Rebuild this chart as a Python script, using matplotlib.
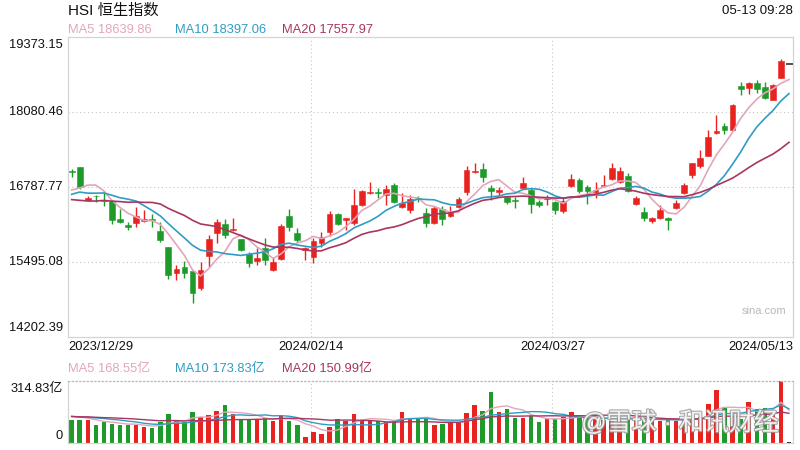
import numpy as np
import matplotlib
matplotlib.use('Agg')
import matplotlib.pyplot as plt
from matplotlib import patheffects as pe

plt.rcParams['font.family'] = ['Liberation Sans', 'Noto Sans CJK SC', 'DejaVu Sans']

# ---------------- data ----------------
title = 'HSI 恒生指数'
timestamp = '05-13 09:28'
date_labels = ['2023/12/29', '2024/02/14', '2024/03/27', '2024/05/13']
price_ticks = [19373.15, 18080.46, 16787.77, 15495.08, 14202.39]
vol_ticks = [314.83, 0]
ma_names = ['MA5', 'MA10', 'MA20']
ma_price_legend = [18639.86, 18397.06, 17557.97]
ma_vol_legend = [168.55, 173.83, 150.99]

opens = [17070, 17127, 16570, 16640, 16560, 16547, 16242, 16125, 16162, 16207,
         16240, 16030, 15748, 15300, 15409, 15340, 15041, 15598, 15990, 16150,
         16040, 15891, 15633, 15520, 15742, 15357, 15541, 16288, 15990, 15700,
         15576, 15817, 16018, 16322, 16215, 16173, 16478, 16680, 16700, 16650,
         16822, 16438, 16391, 16605, 16334, 16162, 16408, 16290, 16438, 16707,
         17040, 17093, 16770, 16700, 16621, 16565, 16765, 16736, 16535, 16575,
         16535, 16380, 16810, 16908, 16783, 16700, 16805, 16920, 16879, 16977,
         16489, 16362, 16210, 16249, 16260, 16421, 16679, 16995, 17143, 17322,
         17715, 17839, 17770, 18520, 18490, 18575, 18506, 18287, 18672, 18904]
highs = [17093, 17135, 16635, 16655, 16720, 16560, 16403, 16190, 16448, 16391,
         16318, 16190, 15760, 15443, 15517, 15345, 15490, 15960, 16236, 16231,
         16248, 15900, 15672, 15731, 15904, 15587, 16145, 16403, 16076, 15760,
         15904, 16018, 16379, 16340, 16260, 16748, 16735, 16880, 16765, 16822,
         16850, 16679, 16650, 16625, 16421, 16460, 16460, 16460, 16621, 17150,
         17207, 17201, 16822, 16793, 16630, 16621, 16965, 16765, 16560, 16650,
         16552, 16621, 17007, 16938, 16822, 16879, 16995, 17201, 17127, 17024,
         16638, 16438, 16276, 16478, 16265, 16564, 16850, 17210, 17425, 17770,
         18029, 17886, 18210, 18592, 18600, 18632, 18590, 18560, 18990, 18904]
lows = [16965, 16748, 16545, 16535, 16460, 16150, 16173, 16047, 16104, 16190,
        16104, 15835, 15202, 15185, 15214, 14794, 15012, 15414, 15828, 15904,
        16030, 15690, 15414, 15443, 15443, 15340, 15529, 16035, 15845, 15529,
        15472, 15759, 15943, 16133, 16047, 16133, 16462, 16665, 16593, 16478,
        16520, 16421, 16334, 16535, 16093, 16145, 16133, 16276, 16421, 16650,
        17030, 16879, 16564, 16650, 16495, 16431, 16750, 16345, 16450, 16478,
        16317, 16334, 16793, 16690, 16495, 16593, 16793, 16910, 16862, 16700,
        16472, 16210, 16162, 16230, 16047, 16400, 16660, 16938, 17115, 17322,
        17700, 17700, 17750, 18373, 18390, 18414, 18300, 18287, 18660, 18904]
closes = [17047, 16789, 16600, 16625, 16540, 16224, 16190, 16097, 16295, 16240,
          16216, 15866, 15277, 15370, 15309, 14961, 15354, 15900, 16190, 15952,
          16065, 15703, 15485, 15560, 15533, 15490, 16121, 16093, 15878, 15730,
          15860, 15930, 16320, 16156, 16245, 16478, 16719, 16700, 16680, 16760,
          16537, 16511, 16580, 16596, 16163, 16420, 16230, 16353, 16588, 17080,
          17070, 16962, 16721, 16737, 16529, 16543, 16863, 16499, 16474, 16618,
          16393, 16541, 16931, 16725, 16724, 16733, 16830, 17110, 17063, 16722,
          16600, 16249, 16252, 16386, 16224, 16512, 16829, 17201, 17285, 17651,
          17747, 17763, 18207, 18476, 18578, 18479, 18314, 18538, 18964, 18904]
volumes = [117, 117, 117, 92, 106, 97, 92, 92, 92, 80,
           74, 106, 149, 117, 106, 158, 131, 143, 163, 193,
           148, 121, 121, 121, 126, 114, 138, 114, 92, 30,
           55, 47, 80, 121, 114, 149, 117, 117, 114, 106,
           117, 156, 126, 126, 126, 92, 97, 101, 109, 151,
           193, 163, 257, 156, 174, 126, 126, 138, 106, 121,
           121, 131, 156, 126, 126, 125, 115, 110, 118, 130,
           118, 125, 115, 110, 125, 112, 120, 128, 130, 200,
           267, 181, 130, 121, 206, 173, 179, 163, 314.83, 3]
# closes / volumes of the 19 sessions before the first candle (for the moving averages)
prior_closes = [17043, 16830, 16646, 16328, 16463, 16346, 16334, 16201, 16375, 16229,
                16402, 16792, 16629, 16505, 16614, 16621, 16340, 16625, 17044]
prior_volumes = [150, 128, 135, 142, 120, 131, 126, 145, 138, 133,
                 160, 118, 125, 137, 140, 129, 145, 132, 148]

# ---------------- helpers ----------------
RED = '#e8231f'
GREEN = '#1d9a2a'
MA_COLORS = ['#e2a6bb', '#2f9cc4', '#a93560']
GRID = '#c4c4c4'
FRAME = '#d4d4d4'

n = len(closes)
x = np.arange(n)


def moving_avg(prior, vals, w):
    full = np.array(list(prior) + list(vals), dtype=float)
    off = len(prior)
    return np.array([full[off + i - w + 1: off + i + 1].mean() for i in range(len(vals))])


W, H = 800, 450
fig = plt.figure(figsize=(8, 4.5), dpi=100)
fig.patch.set_facecolor('white')

L, R = 68, 793
ax = fig.add_axes([L / W, 1 - 337 / H, (R - L) / W, 300 / H])
axv = fig.add_axes([L / W, 1 - 443 / H, (R - L) / W, 62 / H])

xlim = (-0.45, n - 0.5)
for a in (ax, axv):
    a.set_xlim(*xlim)
    a.set_xticks([])
    a.set_yticks([])
    for s in a.spines.values():
        s.set_color(FRAME)
        s.set_linewidth(0.9)

ax.set_ylim(price_ticks[-1], price_ticks[0])
axv.set_ylim(0, vol_ticks[0])
axv.spines['top'].set_linestyle((0, (1, 2)))
axv.spines['top'].set_color('#b8b8b8')

# grid lines
for v in price_ticks[1:-1]:
    ax.axhline(v, color=GRID, lw=0.8, ls=(0, (1, 2.5)), zorder=0)
for gx in (29.65, 59.65):
    ax.axvline(gx, color=GRID, lw=0.8, ls=(0, (1, 2.5)), zorder=0)
    axv.axvline(gx, color=GRID, lw=0.8, ls=(0, (1, 2.5)), zorder=0)

# candles
o = np.array(opens, float); c = np.array(closes, float)
h = np.array(highs, float); lo = np.array(lows, float)
cols = []
for i in range(n):
    if c[i] > o[i]:
        col = RED
    elif c[i] < o[i]:
        col = GREEN
    else:
        col = '#222222'
    cols.append(col)
    ax.vlines(x[i], lo[i], h[i], color=col, lw=1.0, zorder=2)
    if c[i] == o[i]:
        ax.hlines(c[i], x[i] - 0.4, x[i] + 0.5, color=col, lw=1.1, zorder=3)
    else:
        ax.bar(x[i], abs(c[i] - o[i]), bottom=min(o[i], c[i]), width=0.72,
               color=col, edgecolor=col, lw=0.4, zorder=3)

for w, colr in zip((5, 10, 20), MA_COLORS):
    ax.plot(x, moving_avg(prior_closes, closes, w), color=colr, lw=1.2, zorder=4)

# volume
axv.bar(x, volumes, width=0.55, color=cols, zorder=2)
for w, colr in zip((5, 10, 20), MA_COLORS):
    axv.plot(x, moving_avg(prior_volumes, volumes, w), color=colr, lw=1.0, zorder=3)


def ftext(px, py, s, **kw):
    fig.text(px / W, 1 - py / H, s, **kw)


# header
ftext(68, 11, title, fontsize=11, ha='left', va='center', color='#111111')
ftext(793, 11, timestamp, fontsize=9.5, ha='right', va='center', color='#111111')

# price MA legend
leg_x = [68, 175, 282]
for xx, nm, val, colr in zip(leg_x, ma_names, ma_price_legend, MA_COLORS):
    ftext(xx, 30, f'{nm} {val:.2f}', fontsize=9.3, ha='left', va='center', color=colr)

# volume MA legend
for xx, nm, val, colr in zip(leg_x, ma_names, ma_vol_legend, MA_COLORS):
    ftext(xx, 369, f'{nm} {val:.2f}亿', fontsize=9.3, ha='left', va='center', color=colr)

# price y labels
price_y_px = [45, 112, 187, 262, 328]
for v, py in zip(price_ticks, price_y_px):
    ftext(63, py, f'{v:.2f}', fontsize=9.3, ha='right', va='center', color='#111111')

# volume y labels
ftext(63, 389, f'{vol_ticks[0]:.2f}亿', fontsize=9.3, ha='right', va='center', color='#111111')
ftext(63, 436, f'{vol_ticks[1]}', fontsize=9.3, ha='right', va='center', color='#111111')

# date labels
ftext(68, 347, date_labels[0], fontsize=9.3, ha='left', va='center', color='#111111')
ftext(311, 347, date_labels[1], fontsize=9.3, ha='center', va='center', color='#111111')
ftext(553, 347, date_labels[2], fontsize=9.3, ha='center', va='center', color='#111111')
ftext(793, 347, date_labels[3], fontsize=9.3, ha='right', va='center', color='#111111')

# watermarks
ftext(786, 311, 'sina.com', fontsize=8, ha='right', va='center', color='#b8b8b8')
ftext(680, 423, '@雪球 · 和讯财经', fontsize=18, ha='center', va='center', color='white',
      alpha=0.85, path_effects=[pe.withStroke(linewidth=1.6, foreground='#9a9a9a')])

fig.savefig('out.png', dpi=100, facecolor='white')
